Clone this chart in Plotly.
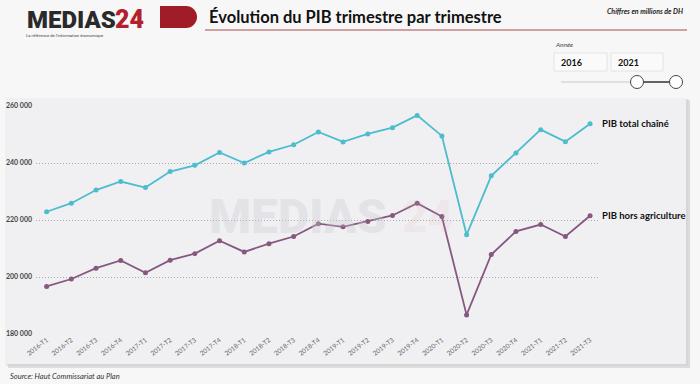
import plotly.graph_objects as go

# ---------------- data ----------------
quarters = ["2016-T1", "2016-T2", "2016-T3", "2016-T4",
            "2017-T1", "2017-T2", "2017-T3", "2017-T4",
            "2018-T1", "2018-T2", "2018-T3", "2018-T4",
            "2019-T1", "2019-T2", "2019-T3", "2019-T4",
            "2020-T1", "2020-T2", "2020-T3", "2020-T4",
            "2021-T1", "2021-T2", "2021-T3"]
pib_total = [222900, 225900, 230500, 233500, 231400, 237000, 239200, 243700,
             240000, 243900, 246400, 250900, 247400, 250200, 252400, 256700,
             249500, 214800, 235500, 243500, 251700, 247500, 253800]
pib_hors_agri = [196700, 199300, 203100, 205800, 201500, 205900, 208200, 212700,
                 208800, 211700, 214200, 218700, 217600, 219500, 221600, 225900,
                 221200, 186700, 207900, 216000, 218400, 214200, 221500]
series_names = ["PIB total chaîné", "PIB hors agriculture"]
y_tickvals = [180000, 200000, 220000, 240000, 260000]
y_ticktext = ["180 000", "200 000", "220 000", "240 000", "260 000"]
year_range = ["2016", "2021"]

# ---------------- layout helpers (pixel -> paper) ----------------
W, H = 700, 384
L, R, T, B = 36, 102, 106, 50
PW, PH = W - L - R, H - T - B


def X(px):
    return (px - L) / PW


def Y(py):
    return (H - B - py) / PH


TEAL = "#4dbccd"
PURPLE = "#86587f"
FONT = "Lato, 'Open Sans', sans-serif"

fig = go.Figure()
for name, vals, col in [(series_names[0], pib_total, TEAL),
                        (series_names[1], pib_hors_agri, PURPLE)]:
    fig.add_trace(go.Scatter(
        x=quarters, y=vals, name=name, mode="lines+markers",
        line=dict(color=col, width=1.8),
        marker=dict(color=col, size=5),
        showlegend=False, hoverinfo="x+y"))

shapes = []
# card shadow + card
shapes.append(dict(type="rect", xref="paper", yref="paper", layer="below",
                   x0=X(8), x1=X(690), y0=Y(368), y1=Y(100),
                   fillcolor="#dcdcdc", line=dict(width=0)))
shapes.append(dict(type="rect", xref="paper", yref="paper", layer="below",
                   x0=X(6), x1=X(688), y0=Y(366), y1=Y(99),
                   fillcolor="#d2d2d4", line=dict(width=0), opacity=0.6))
shapes.append(dict(type="rect", xref="paper", yref="paper", layer="below",
                   x0=X(5), x1=X(686), y0=Y(364), y1=Y(98),
                   fillcolor="#f0f0f3", line=dict(width=0)))
# red pill in header
shapes.append(dict(type="rect", xref="paper", yref="paper",
                   x0=X(160), x1=X(187), y0=Y(28), y1=Y(6),
                   fillcolor="#a01d27", line=dict(width=0)))
shapes.append(dict(type="circle", xref="paper", yref="paper",
                   x0=X(175), x1=X(197), y0=Y(28), y1=Y(6),
                   fillcolor="#a01d27", line=dict(width=0)))
# title underline
shapes.append(dict(type="line", xref="paper", yref="paper",
                   x0=X(205), x1=X(687), y0=Y(30), y1=Y(30),
                   line=dict(color="#c08386", width=1.5)))
# year boxes
for bx0, bx1 in [(554, 607), (611, 663)]:
    shapes.append(dict(type="rect", xref="paper", yref="paper",
                       x0=X(bx0), x1=X(bx1), y0=Y(71), y1=Y(53),
                       fillcolor="#fafafa", line=dict(color="#e4e4e4", width=1)))
# slider track
shapes.append(dict(type="line", xref="paper", yref="paper",
                   x0=X(561), x1=X(637), y0=Y(82), y1=Y(82),
                   line=dict(color="#e0e0e0", width=2)))
shapes.append(dict(type="line", xref="paper", yref="paper",
                   x0=X(637), x1=X(676), y0=Y(82), y1=Y(82),
                   line=dict(color="#333333", width=1.5)))
for cx in (637, 676):
    shapes.append(dict(type="circle", xref="paper", yref="paper",
                       x0=X(cx - 6.5), x1=X(cx + 6.5), y0=Y(88.5), y1=Y(75.5),
                       fillcolor="#ffffff", line=dict(color="#444444", width=1)))

annotations = []


def txt(text, px, py, size, color="#111", xanchor="left", yanchor="middle",
        family=FONT, weight=None, italic=False, opacity=1):
    f = dict(family=family, size=size, color=color)
    if weight:
        f["weight"] = weight
    if italic:
        f["style"] = "italic"
    annotations.append(dict(text=text, xref="paper", yref="paper", x=X(px), y=Y(py),
                            xanchor=xanchor, yanchor=yanchor, showarrow=False,
                            font=f, opacity=opacity))


# watermark
txt("MEDIAS", 298, 216, 48, color="rgba(205,205,210,0.35)", xanchor="center",
    family="Roboto, 'DejaVu Sans', sans-serif", weight=900)
txt("24", 427, 217, 44, color="rgba(230,170,170,0.15)", xanchor="center",
    family="Roboto, 'DejaVu Sans', sans-serif", weight=900)

# logo
txt("MEDIAS", 25, 20, 24, color="#2a2a2a", family="Roboto, sans-serif", weight=900)
txt("24", 113, 20, 25, color="#b3202b", family="Roboto, sans-serif", weight=900)
txt("La référence de l'information économique", 24, 35, 4.2, color="#444",
    family="Roboto, sans-serif")
# title
txt("Évolution du PIB trimestre par trimestre", 207, 17, 16.5, color="#111", weight=700)
txt("Chiffres en millions de DH", 685, 11, 7, color="#222", xanchor="right",
    weight=700, italic=True)
# slider widget
txt("Année", 553, 45, 6.5, color="#444", italic=True)
txt(year_range[0], 559, 62, 9, color="#111", weight=700)
txt(year_range[1], 616, 62, 9, color="#111", weight=700)
# source
txt("Source: Haut Commissariat au Plan", 8, 376, 7.5, color="#333", italic=True)

# series labels at line ends
for name, vals in [(series_names[0], pib_total), (series_names[1], pib_hors_agri)]:
    annotations.append(dict(text=name, x=quarters[-1], y=vals[-1], xref="x", yref="y",
                            xanchor="left", yanchor="middle", xshift=10, showarrow=False,
                            font=dict(family=FONT, size=9.5, color="#111", weight=700)))

fig.update_layout(
    width=W, height=H,
    margin=dict(l=L, r=R, t=T, b=B, pad=0, autoexpand=False),
    paper_bgcolor="#f7f7f7",
    plot_bgcolor="rgba(0,0,0,0)",
    shapes=shapes, annotations=annotations,
    xaxis=dict(type="category", range=[-0.43, 22.32], showgrid=False, automargin=False,
               zeroline=False, showline=False, ticks="", tickangle=-38,
               tickfont=dict(family=FONT, size=6.5, color="#666")),
    yaxis=dict(range=[180000, 260000], tickvals=y_tickvals, ticktext=y_ticktext,
               automargin=False,
               showgrid=True, gridcolor="#aaaaaa", griddash="1px,2px", gridwidth=1,
               zeroline=False, showline=False, ticks="", ticklabelstandoff=3,
               tickfont=dict(family=FONT, size=7, color="#444", weight=700)),
    font=dict(family=FONT),
)

fig.write_html("out.html",
               config={"displayModeBar": False},
               post_script="document.body.style.margin='0';"
                           "document.body.style.overflow='hidden';"
                           "document.body.style.background='#f7f7f7';")
